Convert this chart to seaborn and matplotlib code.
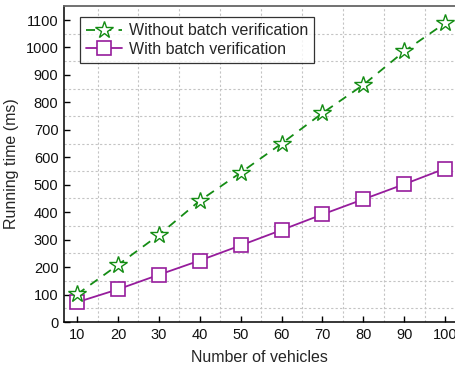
import matplotlib
matplotlib.use("Agg")
import matplotlib.pyplot as plt
import seaborn as sns
import pandas as pd
import numpy as np

vehicles = [10, 20, 30, 40, 50, 60, 70, 80, 90, 100]
without_batch = [101, 208, 317, 442, 544, 650, 761, 864, 986, 1089]
with_batch = [72, 119, 172, 224, 279, 335, 392, 447, 502, 559]
x_ticks = [10, 20, 30, 40, 50, 60, 70, 80, 90, 100]
y_ticks = [0, 100, 200, 300, 400, 500, 600, 700, 800, 900, 1000, 1100]

sns.set_theme(style="white")
plt.rcParams['font.family'] = ['Liberation Sans', 'DejaVu Sans']

df1 = pd.DataFrame({"x": vehicles, "y": without_batch})
df2 = pd.DataFrame({"x": vehicles, "y": with_batch})

fig = plt.figure(figsize=(4.55, 3.70), dpi=100)
ax = fig.add_axes([64/455, 1-322/370, 1-64/455, (322-6)/370])

green = "#148c14"
purple = "#961c9c"

sns.lineplot(data=df2, x="x", y="y", ax=ax, color=purple, linewidth=1.3,
             marker="s", markersize=10, markerfacecolor="white",
             markeredgecolor=purple, markeredgewidth=1.2,
             label="With batch verification", zorder=3)
sns.lineplot(data=df1, x="x", y="y", ax=ax, color=green, linewidth=1.3,
             linestyle=(0, (5, 4)), marker="*", markersize=13,
             markerfacecolor="white", markeredgecolor=green,
             markeredgewidth=1.0, label="Without batch verification", zorder=4)

ax.set_xlim(6.8, 102.4)
ax.set_ylim(0, 1151)
ax.set_xticks(x_ticks)
ax.set_yticks(y_ticks)
ax.set_xticks(np.arange(15, 101, 10), minor=True)
ax.set_yticks(np.arange(50, 1101, 100), minor=True)
ax.grid(False)
ax.grid(which="minor", color="#c4c4c4", linestyle=(0, (2, 2)), linewidth=0.8)
ax.tick_params(which="major", direction="in", length=4, width=1,
               labelsize=10.5, colors="black", left=True, bottom=True, pad=4)
ax.tick_params(which="minor", length=0)
for lab in ax.get_xticklabels() + ax.get_yticklabels():
    lab.set_color("#111111")

for s in ["left", "bottom"]:
    ax.spines[s].set_color("black")
    ax.spines[s].set_linewidth(1.1)
ax.spines["top"].set_color("#666666")
ax.spines["top"].set_linewidth(1.3)
ax.spines["right"].set_visible(False)

ax.set_xlabel("Number of vehicles", fontsize=11.5, labelpad=6)
ax.set_ylabel("Running time (ms)", fontsize=11.5, labelpad=5)

h, l = ax.get_legend_handles_labels()
leg = ax.legend(h[::-1], l[::-1], loc="upper left",
                bbox_to_anchor=((80-64)/391, 1-(17-6)/316),
                borderaxespad=0, fontsize=11.5, frameon=True, fancybox=False,
                edgecolor="black", handlelength=2.2, handletextpad=0.45,
                borderpad=0.4, labelspacing=0.22)
leg.get_frame().set_linewidth(0.9)

fig.savefig("out.png", dpi=100)
